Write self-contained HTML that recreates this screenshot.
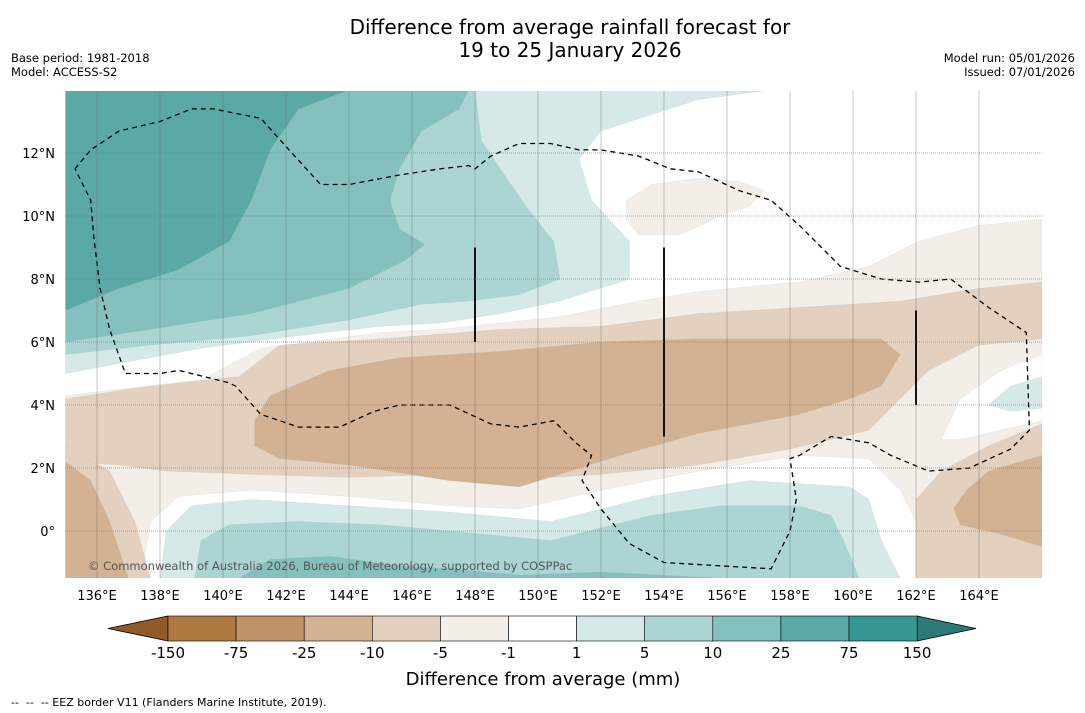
<!DOCTYPE html>
<html><head><meta charset="utf-8"><style>
body{margin:0;background:#fff;width:1085px;height:713px;overflow:hidden;font-family:"DejaVu Sans","Liberation Sans",sans-serif}
svg{display:block}
</style></head><body>
<svg id="c" width="1085" height="713" xmlns="http://www.w3.org/2000/svg" font-family="DejaVu Sans, Liberation Sans, sans-serif">
<text x="570" y="34" font-size="20" text-anchor="middle">Difference from average rainfall forecast for</text>
<text x="570" y="57" font-size="20" text-anchor="middle">19 to 25 January 2026</text>
<text x="11" y="62" font-size="11.5">Base period: 1981-2018</text>
<text x="11" y="76" font-size="11.5">Model: ACCESS-S2</text>
<text x="1075" y="62" font-size="11.5" text-anchor="end">Model run: 05/01/2026</text>
<text x="1075" y="76" font-size="11.5" text-anchor="end">Issued: 07/01/2026</text>
<defs><clipPath id="mc"><rect x="65" y="91" width="977" height="487"/></clipPath></defs>
<g id="map" clip-path="url(#mc)"><rect x="65" y="91" width="977" height="487" fill="#fff"/></g>
<g id="grid"></g>
<g id="axes"></g>
<g id="cbar"></g>
<text x="543" y="685" font-size="18" text-anchor="middle">Difference from average (mm)</text>
<text x="11" y="706" font-size="11" xml:space="preserve">--  --  -- EEZ border V11 (Flanders Marine Institute, 2019).</text>
</svg>
<script>
const lonTicks=[136,138,140,142,144,146,148,150,152,154,156,158,160,162,164];
const latTicks=[0,2,4,6,8,10,12];
const cbLabels=["-150","-75","-25","-10","-5","-1","1","5","10","25","75","150"];
const cbColors=["#ae7940","#bf9368","#d2b293","#e3d0bf","#f3eee8","#ffffff","#d4e9e8","#abd5d3","#84c0be","#5aa9a7","#359692"];
const extColors=["#925a26","#2b7a78"];
// contour regions [lon,lat], painted in order with fill
const regions=[
 {name:"pos-1-5-north",fill:"#d4e9e8",pts:[[135,14],[157.4,14],[155.1,13.7],[152,12.7],[151.3,11.8],[151.7,10.5],[152.9,9.2],[152.9,8],[150.7,7.3],[148.8,6.9],[146.9,6.6],[145,6.5],[142.4,6.2],[139.3,5.8],[135,5.0]]},
 {name:"pos-5-10-north",fill:"#abd5d3",pts:[[135,14],[148,14],[148.2,12.4],[148.8,11.5],[149.7,10.2],[150.5,9.2],[150.7,8],[149.4,7.5],[147.8,7.3],[146.3,7.2],[144,6.7],[140.9,6.2],[137.7,5.9],[135,5.6]]},
 {name:"pos-10-25-north",fill:"#84c0be",pts:[[135,14],[147.8,14],[147.5,13.4],[146.3,12.7],[145.6,11.5],[145.3,10.5],[145.6,9.6],[146.4,9.1],[145.8,8.6],[144,7.7],[140.9,6.9],[137.7,6.4],[135,6.0]]},
 {name:"pos-25-75-north",fill:"#5aa9a7",pts:[[135,14],[144,14],[142.4,13.4],[141.5,12.1],[140.9,10.5],[140.2,9.2],[138.6,8.3],[136.7,7.7],[135,7.0]]},
 {name:"neg-1-5-blob-ne",fill:"#f3eee8",pts:[[152.8,10.5],[153.6,11],[155.1,11.2],[156.4,11.1],[157.2,10.8],[156.7,10.3],[155.8,10],[154.5,9.4],[153.2,9.4],[152.8,9.9]]},
 {name:"neg-1-5-main",fill:"#f3eee8",pts:[[135,4.3],[139.3,4.8],[141.2,5.8],[145,6.3],[146.9,6.4],[150.7,6.8],[153.2,7.3],[155.1,7.6],[158.3,7.9],[160.5,8.4],[162.1,9.2],[164,9.7],[166,9.9],[166,-1.5],[162.1,-1.5],[162,0.3],[161.5,1.3],[160.5,2.3],[158.3,2.4],[155.1,1.9],[152,1.3],[149.4,0.7],[147.2,0.8],[144,1.1],[140.9,1.3],[138.6,1.1],[137.7,0.3],[137.4,-1.5],[135,-1.5]]},
 {name:"neutral-hole-e",fill:"#ffffff",pts:[[162.8,2.9],[163.4,4.2],[164.7,5.1],[166,5.6],[166,3.5],[164.7,3.2],[163.4,2.9]]},
 {name:"pos-1-5-blob-e",fill:"#d4e9e8",pts:[[164.3,4.0],[165,4.6],[166,4.9],[166,3.9],[165,3.8]]},
 {name:"neg-5-10-main",fill:"#e3d0bf",pts:[[135,4.2],[137.7,4.6],[140.5,4.9],[141.8,5.9],[145,6.1],[148.8,6.4],[152,6.5],[155.1,6.9],[158.3,7.1],[161.5,7.3],[164,7.7],[166,7.9],[166,6.1],[164,5.9],[162.4,5.1],[161.5,4.2],[160.5,3.2],[159.3,2.9],[158,2.6],[155.1,2.1],[152,1.8],[148.8,1.6],[147.2,1.8],[144,1.7],[140.9,1.8],[138.2,1.9],[136.7,2.1],[135,2.2]]},
 {name:"neg-5-10-se",fill:"#e3d0bf",pts:[[166,3.4],[164.3,2.7],[162.8,1.9],[162,1.0],[162,-1.5],[166,-1.5]]},
 {name:"neg-5-10-sw",fill:"#e3d0bf",pts:[[135,2.7],[136.4,1.9],[137.2,0.3],[137.7,-1.5],[135,-1.5]]},
 {name:"neg-10-25-main",fill:"#d2b293",pts:[[141,3.5],[141.5,4.3],[143.4,5.1],[145.6,5.5],[148.8,5.7],[152,6],[155.1,6.1],[158.3,6.1],[160.9,6.1],[161.5,5.6],[160.9,4.6],[159.9,4.2],[158.3,3.7],[155.1,3.1],[152.6,2.4],[150.7,1.8],[149.4,1.4],[147.2,1.6],[144,2.1],[141.8,2.3],[141,2.7]]},
 {name:"neg-10-25-sw",fill:"#d2b293",pts:[[135,2.2],[135.8,1.6],[136.4,0.3],[137,-1.5],[135,-1.5]]},
 {name:"neg-10-25-se",fill:"#d2b293",pts:[[163.2,0.7],[163.6,1.3],[164.3,1.9],[166,2.4],[166,-0.5],[164.7,-0.1],[163.4,0.2]]},
 {name:"pos-1-5-south",fill:"#d4e9e8",pts:[[138,-1.5],[138.2,0],[139,0.8],[140.9,1.0],[144,0.8],[147.2,0.6],[150.4,0.3],[153.6,1.1],[156.7,1.6],[159.9,1.4],[160.5,1.0],[160.9,-0.3],[161.5,-1.5]]},
 {name:"pos-5-10-south",fill:"#abd5d3",pts:[[139.1,-1.5],[139.3,-0.3],[140.2,0.2],[142.4,0.3],[145,0.2],[147.2,0],[150.4,-0.3],[153.6,0.5],[155.8,0.8],[158.3,0.8],[159.3,0.5],[159.7,-0.3],[160.2,-1.5]]},
 {name:"pos-10-25-south",fill:"#84c0be",pts:[[140.5,-1.5],[141.5,-0.9],[143.4,-0.8],[145.6,-1.1],[147.2,-1.2],[149.4,-1.4],[152,-1.3],[155.8,-1.5]]}
];
const eez=[[135.3,11.5],[135.8,12.1],[136.7,12.7],[138,13],[139,13.4],[139.7,13.4],[141.2,13.1],[142.1,12.1],[143.1,11],[144,11],[145.6,11.3],[146.9,11.5],[147.8,11.6],[148,11.5],[148.5,11.9],[149.4,12.3],[150.4,12.3],[151.3,12.1],[152,12.1],[153.2,11.9],[154.2,11.5],[155.1,11.4],[156.4,10.8],[157.4,10.5],[158.3,9.7],[159.6,8.4],[160.9,8.0],[162.1,7.9],[163.1,8.0],[164.3,7.1],[165.5,6.3],[165.6,3.2],[165,2.6],[163.7,2.0],[162.4,1.9],[161.2,2.4],[160.5,2.8],[159.3,3.0],[158.3,2.4],[158,2.3],[158.2,1.0],[158,0],[157.4,-1.2],[154,-1.0],[152.9,-0.4],[152,0.7],[151.4,1.6],[151.7,2.4],[151.2,2.8],[150.5,3.5],[149.4,3.3],[148.5,3.4],[147.2,4.0],[145.6,4.0],[144.8,3.8],[143.7,3.3],[142.4,3.3],[141.2,3.7],[140.4,4.6],[140.2,4.7],[138.6,5.1],[138,5.0],[136.9,5.0],[136.4,6.4],[136.1,7.7],[135.9,9.3],[135.8,10.5],[135.3,11.5]];
const bars=[[148,9,6],[154,9,3],[162,7,4]];
const X=lon=>97+(lon-136)*31.5, Y=lat=>531-lat*31.5;
const NS="http://www.w3.org/2000/svg";
function mk(t,a,p){const e=document.createElementNS(NS,t);for(const k in a)e.setAttribute(k,a[k]);p.appendChild(e);return e;}
const map=document.getElementById('map');
regions.forEach(r=>{
 const e=mk('polygon',{points:r.pts.map(p=>X(p[0]).toFixed(1)+','+Y(p[1]).toFixed(1)).join(' '),fill:r.fill,stroke:'#9aa',"stroke-width":0.3,"stroke-opacity":0.4},map);
 
 
});
const ez=mk('polyline',{points:eez.map(p=>X(p[0]).toFixed(1)+','+Y(p[1]).toFixed(1)).join(' '),fill:'none',stroke:'#000','stroke-width':1.3,'stroke-dasharray':'5,4'},map);


bars.forEach(b=>{
 const e=mk('line',{x1:X(b[0]),x2:X(b[0]),y1:Y(b[1]),y2:Y(b[2]),stroke:'#000','stroke-width':2},map);
 
 
});
const ct=mk('text',{x:88,y:570,'font-size':11.5,fill:'#555'},map);ct.textContent="© Commonwealth of Australia 2026, Bureau of Meteorology, supported by COSPPac";


const grid=document.getElementById('grid'),axes=document.getElementById('axes');
lonTicks.forEach(l=>{
 const g=mk('line',{x1:X(l),x2:X(l),y1:91,y2:578,stroke:'#666','stroke-width':0.6,'stroke-opacity':0.6},grid);
 
 
 const t=mk('text',{x:X(l),y:600,'font-size':13,'text-anchor':'middle'},axes);t.textContent=l+'°E';
 
 
});
latTicks.forEach(l=>{
 const g=mk('line',{x1:65,x2:1042,y1:Y(l),y2:Y(l),stroke:'#777','stroke-width':0.7,'stroke-dasharray':'1,1','stroke-opacity':0.8},grid);
 
 
 const t=mk('text',{x:55,y:Y(l)+5,'font-size':13,'text-anchor':'end'},axes);t.textContent=l===0?'0°':l+'°N';
 
 
});
const cb=document.getElementById('cbar');
const cx0=168,cw=68.1,cy=616,ch=25;
const lt=mk('polygon',{points:`108,${cy+ch/2} ${cx0},${cy} ${cx0},${cy+ch}`,fill:extColors[0],stroke:'#000','stroke-width':0.8},cb);


const rx=cx0+cw*cbColors.length;
const rt=mk('polygon',{points:`${rx},${cy} 976,${cy+ch/2} ${rx},${cy+ch}`,fill:extColors[1],stroke:'#000','stroke-width':0.8},cb);


cbColors.forEach((c,i)=>{
 const r=mk('rect',{x:cx0+i*cw,y:cy,width:cw,height:ch,fill:c,stroke:'#000','stroke-width':0.6},cb);
 
 
});
cbLabels.forEach((s,i)=>{
 const t=mk('text',{x:cx0+i*cw,y:658,'font-size':15,'text-anchor':'middle'},cb);t.textContent=s;
 
 
});
</script>
</body></html>
